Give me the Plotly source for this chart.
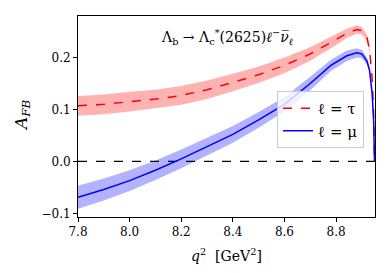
import plotly.graph_objects as go

q2 = [7.80, 7.90, 8.00, 8.10, 8.20, 8.30, 8.40, 8.50, 8.60, 8.70, 8.78, 8.84, 8.88, 8.90, 8.92, 8.93, 8.94, 8.946, 8.949]
tau_c = [0.107, 0.110, 0.115, 0.120, 0.127, 0.138, 0.152, 0.167, 0.185, 0.207, 0.229, 0.246, 0.254, 0.252, 0.238, 0.215, 0.160, 0.090, 0.0]
tau_err = [0.019, 0.019, 0.019, 0.018, 0.018, 0.018, 0.017, 0.016, 0.015, 0.013, 0.011, 0.009, 0.008, 0.007, 0.006, 0.006, 0.005, 0.004, 0.0]
mu_c = [-0.069, -0.054, -0.037, -0.017, 0.005, 0.028, 0.052, 0.080, 0.110, 0.150, 0.185, 0.203, 0.209, 0.207, 0.193, 0.175, 0.130, 0.075, 0.0]
mu_err = [0.022, 0.021, 0.020, 0.019, 0.018, 0.017, 0.016, 0.015, 0.014, 0.013, 0.011, 0.010, 0.009, 0.008, 0.007, 0.006, 0.005, 0.004, 0.0]

x_ticks = [7.8, 8.0, 8.2, 8.4, 8.6, 8.8]
x_labels = ["7.8", "8.0", "8.2", "8.4", "8.6", "8.8"]
y_ticks = [-0.1, 0.0, 0.1, 0.2]
y_labels = ["\u22120.1", "0.0", "0.1", "0.2"]

FONT = "DejaVu Serif"

fig = go.Figure()

def band(x, c, e, fill):
    hi = [a + b for a, b in zip(c, e)]
    lo = [a - b for a, b in zip(c, e)]
    fig.add_trace(go.Scatter(x=x + x[::-1], y=hi + lo[::-1], fill="toself",
                             fillcolor=fill, line=dict(width=0), mode="lines",
                             showlegend=False, hoverinfo="skip"))

band(q2, tau_c, tau_err, "rgba(255,0,0,0.3)")
band(q2, mu_c, mu_err, "rgba(0,0,255,0.3)")

fig.add_trace(go.Scatter(x=[7.8, 8.951], y=[0, 0], mode="lines",
                         line=dict(color="black", width=1.2, dash="dash"),
                         showlegend=False, hoverinfo="skip"))

fig.add_trace(go.Scatter(x=q2, y=tau_c, mode="lines", name="\u2113 = \u03c4",
                         line=dict(color="red", width=1.5, dash="dash")))
fig.add_trace(go.Scatter(x=q2, y=mu_c, mode="lines", name="\u2113 = \u03bc",
                         line=dict(color="blue", width=1.5)))

axis_common = dict(showline=True, linecolor="black", linewidth=1, mirror=True,
                   ticks="outside", ticklen=4, tickcolor="black", showgrid=False,
                   zeroline=False, tickfont=dict(family=FONT, size=12, color="black"))

fig.update_xaxes(range=[7.8, 8.951], tickvals=x_ticks, ticktext=x_labels, **axis_common)
fig.update_yaxes(range=[-0.107, 0.280], tickvals=y_ticks, ticktext=y_labels, **axis_common)

fig.add_annotation(text="\u039b<sub>b</sub> \u2192 \u039b<sub>c</sub><sup>*</sup>(2625)<i>\u2113</i><sup>\u2212</sup><i>\u03bd\u0305</i><sub><i>\u2113</i></sub>",
                   xref="paper", yref="paper", x=0.5, y=0.895, xanchor="center", yanchor="middle",
                   showarrow=False, font=dict(family=FONT, size=14, color="black"))
fig.add_annotation(text="<i>A</i><sub><i>FB</i></sub>", xref="paper", yref="paper",
                   x=-0.189, y=0.507, xanchor="center", yanchor="middle", textangle=-90,
                   showarrow=False, font=dict(family=FONT, size=17, color="black"))
fig.add_annotation(text="<i>q</i><sup>2</sup>  [GeV<sup>2</sup>]", xref="paper", yref="paper",
                   x=0.5, y=-0.19, xanchor="center", yanchor="middle", showarrow=False,
                   font=dict(family=FONT, size=14, color="black"))

fig.update_layout(
    width=390, height=273,
    margin=dict(l=78, r=15, t=16, b=56),
    plot_bgcolor="white", paper_bgcolor="white",
    legend=dict(x=0.963, y=0.627, xanchor="right", yanchor="top",
                bgcolor="rgba(255,255,255,0.8)", bordercolor="#cccccc", borderwidth=1,
                font=dict(family=FONT, size=15, color="black"), itemwidth=30,
                tracegroupgap=0),
)

fig.write_html("out.html", config={"displayModeBar": False},
               post_script="document.body.style.margin='0';document.body.style.overflow='hidden';")
